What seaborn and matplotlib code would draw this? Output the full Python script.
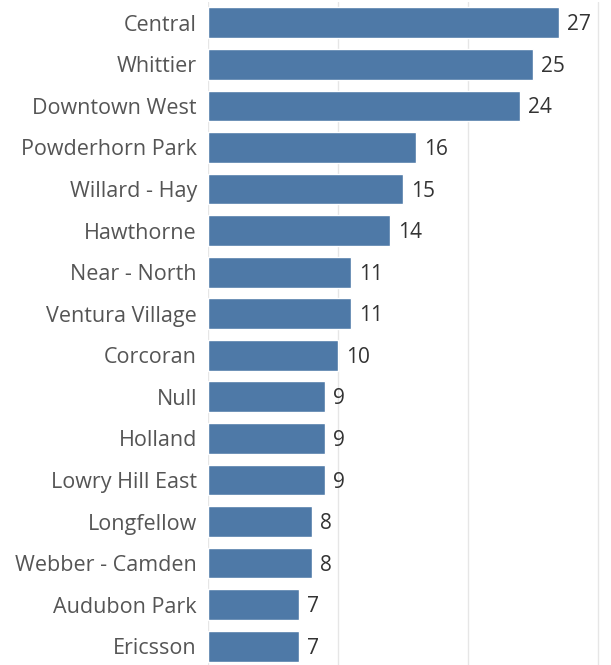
import matplotlib
matplotlib.use("Agg")
import matplotlib.pyplot as plt
import seaborn as sns
import pandas as pd

neighborhoods = ["Central", "Whittier", "Downtown West", "Powderhorn Park", "Willard - Hay",
                 "Hawthorne", "Near - North", "Ventura Village", "Corcoran", "Null", "Holland",
                 "Lowry Hill East", "Longfellow", "Webber - Camden", "Audubon Park", "Ericsson"]
counts = [27, 25, 24, 16, 15, 14, 11, 11, 10, 9, 9, 9, 8, 8, 7, 7]

df = pd.DataFrame({"name": neighborhoods, "count": counts})

sns.set_style("white")
plt.rcParams["font.family"] = ["Open Sans", "DejaVu Sans"]

fig = plt.figure(figsize=(6.11, 6.65), dpi=100)
ax = fig.add_axes([208/611, -0.003, (604-208)/611, 1.0])

sns.barplot(data=df, x="count", y="name", color="#4e79a7", saturation=1,
            width=0.74, ax=ax, zorder=3)

ax.set_xlim(0, 30.45)
ax.set_ylim(15.5, -0.5)
for v in [0, 10, 20, 30]:
    ax.axvline(v, color="#e6e6e6", lw=1, zorder=1)

for i, c in enumerate(counts):
    ax.text(c + 0.6, i + 0.05, str(c), va="center", ha="left", fontsize=15, color="#333333")

ax.set_xlabel("")
ax.set_ylabel("")
ax.set_xticks([])
ax.tick_params(axis="y", length=0, pad=8, labelsize=15.5, labelcolor="#555555")
for lbl in ax.get_yticklabels():
    lbl.set_y(lbl.get_position()[1])
for s in ax.spines.values():
    s.set_visible(False)

fig.savefig("out.png", dpi=100)
